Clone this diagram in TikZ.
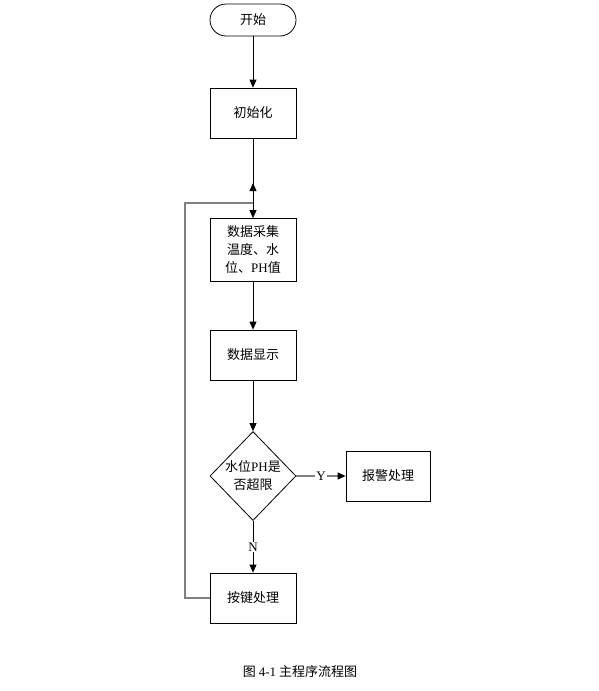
\documentclass[tikz,border=0pt]{standalone}
\usepackage{fontspec}
\setmainfont{Liberation Serif}
\newfontfamily\cjk{Noto Sans CJK SC}
\usetikzlibrary{shapes.geometric,arrows.meta}
\begin{document}
\begin{tikzpicture}[x=1pt,y=-1pt,line cap=butt,line join=miter,>={Triangle[length=8pt,width=7pt,color=black]},font=\cjk\fontsize{13}{18}\selectfont]
	\tikzset{kuang/.style={draw,line width=0.8pt,minimum width=86pt,minimum height=50pt,align=center,inner sep=2pt},
		duan/.style={draw,line width=0.8pt,rounded corners=16pt,minimum width=86pt,minimum height=32pt},
		pan/.style={draw,diamond,line width=0.8pt,minimum width=86pt,minimum height=89pt,inner sep=-12pt,align=center},
		huixian/.style={draw=gray,line width=1.2pt},
		xian/.style={line width=0.8pt}}
	\useasboundingbox (0,0) rectangle (598,691);
	%--------- 流程框
	\node[duan] (kaishi) at (253,20) {开始};
	\node[kuang] (chushi) at (253,113) {初始化};
	\node[kuang,minimum height=63pt] (caiji) at (253,250) {数据采集\\温度、水\\位、{\rmfamily PH}值};
	\node[kuang] (xianshi) at (253,355) {数据显示};
	\node[pan] (panduan) at (253,476) {水位{\rmfamily PH}是\\否超限};
	\node[kuang,minimum width=84pt] (baojing) at (388,476) {报警处理};
	\node[kuang] (anjian) at (253,598) {按键处理};
	\node (tuming) at (300,672) {图 {\rmfamily 4-1} 主程序流程图};
	%--------- 回路
	\coordinate (huan) at (185,203);
	\coordinate (hui) at (253,183);
	\draw[huixian] (anjian.west) -| (huan) -- (hui |- huan);
	\draw[xian,->] (hui |- huan) -- (hui);
	%--------- 连线
	\draw[xian,->] (kaishi) -- (chushi);
	\draw[xian,->] (chushi) -- (caiji);
	\draw[xian,->] (caiji) -- (xianshi);
	\draw[xian,->] (xianshi) -- (panduan);
	\draw[huixian,->] (panduan) -- node[fill=white,inner sep=1pt,text=black,font=\rmfamily\fontsize{13}{14}\selectfont]{Y} (baojing);
	\draw[xian,->] (panduan) -- node[fill=white,inner sep=1pt,font=\rmfamily\fontsize{13}{14}\selectfont]{N} (anjian);
\end{tikzpicture}
\end{document}
